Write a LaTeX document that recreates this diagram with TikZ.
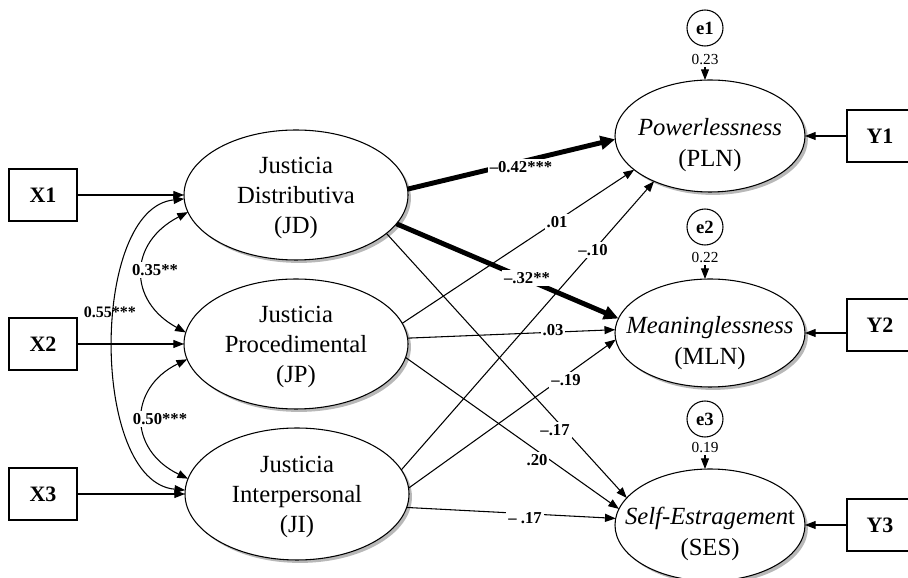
\documentclass[tikz,border=0pt]{standalone}
\usepackage{fontspec}
\setmainfont{Liberation Serif}
\usetikzlibrary{arrows.meta,shadows,shapes.geometric}
\begin{document}
\begin{tikzpicture}[x=0.75pt,y=0.75pt,
  latent/.style={ellipse,draw,line width=0.8pt,fill=white,inner sep=0pt,outer sep=0pt,
    drop shadow={shadow xshift=2.2pt,shadow yshift=-2.2pt,fill=black!28,opacity=1}},
  leftlat/.style={latent,minimum width=168pt,minimum height=97.5pt},
  rightlat/.style={latent,minimum width=142.5pt,minimum height=84pt},
  lattext/.style={align=center,inner sep=0pt,font=\fontsize{18.5}{22.5}\selectfont},
  obs/.style={rectangle,draw,line width=0.8pt,fill=white,inner sep=0pt,
    minimum width=51pt,minimum height=39pt,font=\fontsize{16.5}{18}\selectfont\bfseries},
  obsr/.style={obs,minimum width=49.5pt},
  errc/.style={circle,draw,line width=0.8pt,minimum size=27pt,inner sep=0pt,
    font=\fontsize{14}{15}\selectfont\bfseries},
  varlbl/.style={inner sep=1pt,font=\fontsize{11.5}{12}\selectfont},
  arr/.style={line width=0.8pt,-{Triangle[length=8pt,width=6pt]}},
  fatarr/.style={line width=3.7pt,-{Triangle[length=11pt,width=10pt]}},
  covarr/.style={line width=0.8pt,{Triangle[length=8pt,width=6pt]}-{Triangle[length=8pt,width=6pt]}},
  plbl/.style={fill=white,inner sep=1.5pt,font=\fontsize{12.5}{13}\selectfont\bfseries},
  clbl/.style={inner sep=1pt,font=\fontsize{12}{13}\selectfont\bfseries},
]
\path[use as bounding box] (0,0) rectangle (908,578);
\clip (0,0) rectangle (908,578);

% observed
\node[obs] (X1) at (43,383) {X1};
\node[obs] (X2) at (43,234) {X2};
\node[obs] (X3) at (43,84) {X3};
\node[obsr] (Y1) at (880,442) {Y1};
\node[obsr] (Y2) at (880,253) {Y2};
\node[obsr] (Y3) at (880,53) {Y3};

% latent left
\node[leftlat] (JD) at (296,383) {};
\node[lattext] (JDt) at (296,380) {Justicia\\Distributiva\\(JD)};
\node[leftlat] (JP) at (296,234) {};
\node[lattext] (JPt) at (296,231) {Justicia\\Procedimental\\(JP)};
\node[leftlat,minimum height=99pt] (JI) at (297,84) {};
\node[lattext] (JIt) at (297,81) {Justicia\\Interpersonal\\(JI)};

% latent right
\node[rightlat] (PLN) at (710,442) {};
\node[lattext,font=\fontsize{18.5}{23}\selectfont] (PLNt) at (710,433) {\textit{Powerlessness}\\(PLN)};
\node[rightlat,minimum height=81pt] (MLN) at (710,245) {};
\node[lattext,font=\fontsize{18.5}{23}\selectfont] (MLNt) at (710,235) {\textit{Meaninglessness}\\(MLN)};
\node[rightlat] (SES) at (710,53) {};
\node[lattext,font=\fontsize{18.5}{23}\selectfont] (SESt) at (710,44) {\textit{Self-Estragemen}t\\(SES)};

% errors
\node[errc] (e1) at (705,550) {e1};
\node[varlbl] (v1) at (705,518) {0.23};
\node[errc] (e2) at (705,351) {e2};
\node[varlbl] (v2) at (705,320) {0.22};
\node[errc] (e3) at (705,159) {e3};
\node[varlbl] (v3) at (705,130) {0.19};
\draw[arr] (v1.south) -- (v1.south |- PLN.north);
\draw[arr] (v2.south) -- (v2.south |- MLN.north);
\draw[arr] (v3.south) -- (v3.south |- SES.north);

% X and Y arrows
\draw[arr] (X1) -- (JD);
\draw[arr] (X2) -- (JP);
\draw[arr] (X3) -- (JI);
\draw[arr] (Y1) -- (PLN);
\draw[arr] (Y2.west |- MLN.east) -- (MLN.east);
\draw[arr] (Y3) -- (SES);

% covariances
\draw[covarr] (JD.189) .. controls (128,335) and (128,277) .. (JP.174);
\draw[covarr] (JP.188) .. controls (128,190) and (128,128) .. (JI.172);
\draw[covarr] (JD.182.5) .. controls (90,370) and (90,96) .. (JI.178);
\node[plbl] (c35) at (155,308) {0.35**};
\node[plbl] (c50) at (160,159) {0.50***};
\node[clbl] (c55) at (110,266) {0.55***};

% structural paths
\draw[fatarr] (JD.3) -- (PLN.182);
\draw[fatarr] (JD.-16) -- (MLN.171);
\draw[arr] (JD.-23) -- (SES.162);
\draw[arr] (JP.11) -- (PLN.204);
\draw[arr] (JP.3) -- (MLN.178);
\draw[arr] (JP.-7) -- (SES.170);
\draw[arr] (JI.13) -- (PLN.219);
\draw[arr] (JI.3) -- (MLN.184);
\draw[arr] (JI.-7) -- (SES.176);

% path labels
\node[plbl] (L1) at (521,411) {\textendash0.42***};
\node[plbl] (L2) at (527,300) {\textendash.32**};
\node[plbl] (L3) at (557,356) {.01};
\node[plbl] (L4) at (593,328) {\textendash.10};
\node[plbl] (L5) at (553,248) {.03};
\node[plbl] (L6) at (566,198) {\textendash.19};
\node[plbl] (L7) at (555,148) {\textendash.17};
\node[plbl] (L8) at (537,118) {.20};
\node[plbl] (L9) at (525,60) {\textendash\ .17};
\end{tikzpicture}
\end{document}
